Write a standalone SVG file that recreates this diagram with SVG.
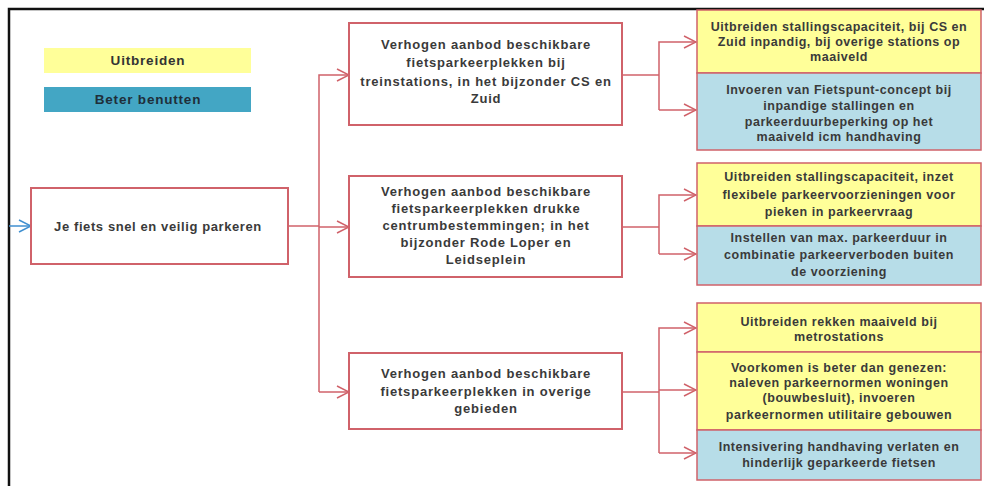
<svg xmlns="http://www.w3.org/2000/svg" width="984" height="486" viewBox="0 0 984 486">
<defs>
<marker id="ar" markerWidth="14" markerHeight="14" refX="13" refY="7" orient="auto" markerUnits="userSpaceOnUse">
<path d="M1,1 L13,7 L1,13" fill="none" stroke="#D0626A" stroke-width="1.5"/>
</marker>
<marker id="ab" markerWidth="14" markerHeight="14" refX="13" refY="7" orient="auto" markerUnits="userSpaceOnUse">
<path d="M1,1 L13,7 L1,13" fill="none" stroke="#3F8FD0" stroke-width="1.5"/>
</marker>
</defs>
<style>
text{font-family:"Liberation Sans",Arial,sans-serif;font-weight:bold;fill:#3a3a3a;text-anchor:middle;}
.m{font-size:13px;letter-spacing:0.8px;}
.r{font-size:12.5px;letter-spacing:0.55px;}
.box{fill:#fff;stroke:#D0626A;stroke-width:2;}
.y{fill:#FFFF99;stroke:#D0626A;stroke-width:1.5;}
.t{fill:#B7DDE8;stroke:#D0626A;stroke-width:1.5;}
.c{fill:none;stroke:#D0626A;stroke-width:1.5;}
</style>
<rect x="0" y="0" width="984" height="486" fill="#fff"/>
<path d="M9,486 V9 H984" fill="none" stroke="#111" stroke-width="2.5"/>

<g id="legend">
<rect x="44" y="48" width="207" height="25" fill="#FFFF99"/>
<text x="148" y="65" style="font-size:13.5px;letter-spacing:0.8px;fill:#333">Uitbreiden</text>
<rect x="44" y="87" width="207" height="25" fill="#43A6C4"/>
<text x="148" y="104" style="font-size:13.5px;letter-spacing:0.8px;fill:#1f2f3a">Beter benutten</text>
</g>

<g id="connectors">
<path d="M9,226 H31" fill="none" stroke="#3F8FD0" stroke-width="1.5" marker-end="url(#ab)"/>
<path class="c" d="M288,226 H319"/>
<path class="c" d="M319,392 V75 H349" marker-end="url(#ar)"/>
<path class="c" d="M319,227 H349" marker-end="url(#ar)"/>
<path class="c" d="M319,392 H349" marker-end="url(#ar)"/>
<path class="c" d="M622,75 H659"/>
<path class="c" d="M659,110 V42 H696" marker-end="url(#ar)"/>
<path class="c" d="M659,110 H696" marker-end="url(#ar)"/>
<path class="c" d="M622,227 H659"/>
<path class="c" d="M659,254 V195 H696" marker-end="url(#ar)"/>
<path class="c" d="M659,254 H696" marker-end="url(#ar)"/>
<path class="c" d="M622,392 H659"/>
<path class="c" d="M659,453 V328 H696" marker-end="url(#ar)"/>
<path class="c" d="M659,390 H696" marker-end="url(#ar)"/>
<path class="c" d="M659,453 H696" marker-end="url(#ar)"/>
</g>

<g id="root">
<rect class="box" x="31" y="188" width="257" height="76"/>
<text class="m" x="158" y="231" style="letter-spacing:0.6px">Je fiets snel en veilig parkeren</text>
</g>

<g id="mid1">
<rect class="box" x="349" y="23" width="273" height="102"/>
<text class="m" x="486" y="49">Verhogen aanbod beschikbare</text>
<text class="m" x="486" y="67">fietsparkeerplekken bij</text>
<text class="m" x="486" y="86">treinstations, in het bijzonder CS en</text>
<text class="m" x="486" y="103">Zuid</text>
</g>

<g id="mid2">
<rect class="box" x="349" y="176" width="273" height="101"/>
<text class="m" x="486" y="196">Verhogen aanbod beschikbare</text>
<text class="m" x="486" y="213">fietsparkeerplekken drukke</text>
<text class="m" x="486" y="230">centrumbestemmingen; in het</text>
<text class="m" x="486" y="247">bijzonder Rode Loper en</text>
<text class="m" x="486" y="264">Leidseplein</text>
</g>

<g id="mid3">
<rect class="box" x="349" y="353" width="273" height="76"/>
<text class="m" x="486" y="378">Verhogen aanbod beschikbare</text>
<text class="m" x="486" y="396">fietsparkeerplekken in overige</text>
<text class="m" x="486" y="413">gebieden</text>
</g>

<g id="r1">
<rect class="y" x="697" y="10" width="284" height="63"/>
<text class="r" x="839" y="31">Uitbreiden stallingscapaciteit, bij CS en</text>
<text class="r" x="839" y="46">Zuid inpandig, bij overige stations op</text>
<text class="r" x="839" y="61">maaiveld</text>
</g>
<g id="r2">
<rect class="t" x="697" y="73" width="284" height="77"/>
<text class="r" x="839" y="94">Invoeren van Fietspunt-concept bij</text>
<text class="r" x="839" y="110">inpandige stallingen en</text>
<text class="r" x="839" y="126">parkeerduurbeperking op het</text>
<text class="r" x="839" y="141">maaiveld icm handhaving</text>
</g>
<g id="r3">
<rect class="y" x="697" y="163" width="284" height="63"/>
<text class="r" x="839" y="181">Uitbreiden stallingscapaciteit, inzet</text>
<text class="r" x="839" y="199">flexibele parkeervoorzieningen voor</text>
<text class="r" x="839" y="216">pieken in parkeervraag</text>
</g>
<g id="r4">
<rect class="t" x="697" y="226" width="284" height="59"/>
<text class="r" x="839" y="242">Instellen van max. parkeerduur in</text>
<text class="r" x="839" y="259">combinatie parkeerverboden buiten</text>
<text class="r" x="839" y="276">de voorziening</text>
</g>
<g id="r5">
<rect class="y" x="697" y="303" width="284" height="49"/>
<text class="r" x="839" y="326">Uitbreiden rekken maaiveld bij</text>
<text class="r" x="839" y="341">metrostations</text>
</g>
<g id="r6">
<rect class="y" x="697" y="352" width="284" height="78"/>
<text class="r" x="839" y="372">Voorkomen is beter dan genezen:</text>
<text class="r" x="839" y="387">naleven parkeernormen woningen</text>
<text class="r" x="839" y="402">(bouwbesluit), invoeren</text>
<text class="r" x="839" y="419">parkeernormen utilitaire gebouwen</text>
</g>
<g id="r7">
<rect class="t" x="697" y="430" width="284" height="50"/>
<text class="r" x="839" y="451">Intensivering handhaving verlaten en</text>
<text class="r" x="839" y="467">hinderlijk geparkeerde fietsen</text>
</g>
</svg>
